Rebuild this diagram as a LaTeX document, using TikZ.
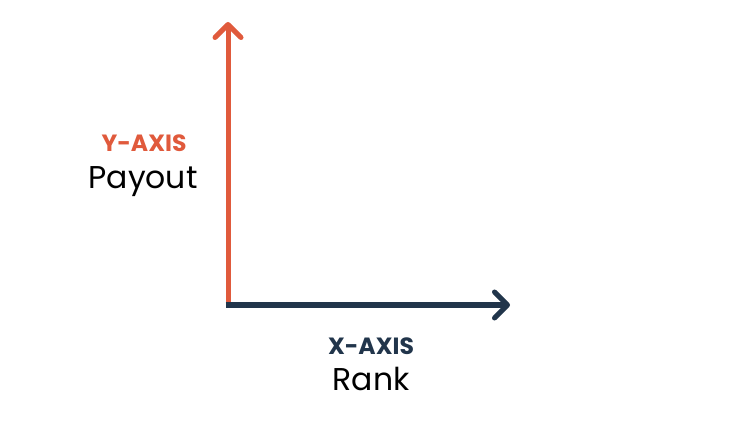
\documentclass[tikz,border=0pt]{standalone}
\usepackage{fontspec}
\setmainfont{Poppins}
\definecolor{AxisOrange}{RGB}{224, 90, 60}
\definecolor{AxisNavy}{RGB}{33, 53, 75}
\usetikzlibrary{arrows.meta, positioning}

\begin{document}
\begin{tikzpicture}[
    x=1pt, y=-1pt,
    axis/.style={line width=5pt, -{Straight Barb[length=13pt, width=26pt, line cap=round, line join=round]}},
    axistag/.style={font=\fontsize{23.5}{26}\selectfont\bfseries, inner sep=0pt, anchor=base},
    axisname/.style={font=\fontsize{31.5}{34}\selectfont, inner sep=0pt, anchor=base},
  ]
  \useasboundingbox (0,0) rectangle (734,422);

  % axis end points
  \coordinate (origin) at (228,305);
  \coordinate (ytip) at (228,22);
  \coordinate (xtip) at (510,305);

  % axes
  \draw[axis, AxisOrange] ([yshift=2.5pt]origin) -- (ytip);
  \draw[axis, AxisNavy] ([xshift=-2.5pt]origin) -- (xtip);

  % y-axis labels
  \node[axistag, text=AxisOrange] (ytag) at (144,152) {Y-AXIS};
  \node[axisname] (yname) at (143,188.5) {Payout};

  % x-axis labels
  \node[axistag, text=AxisNavy] (xtag) at (371,354) {X-AXIS};
  \node[axisname] (xname) at (371,390) {Rank};
\end{tikzpicture}
\end{document}
